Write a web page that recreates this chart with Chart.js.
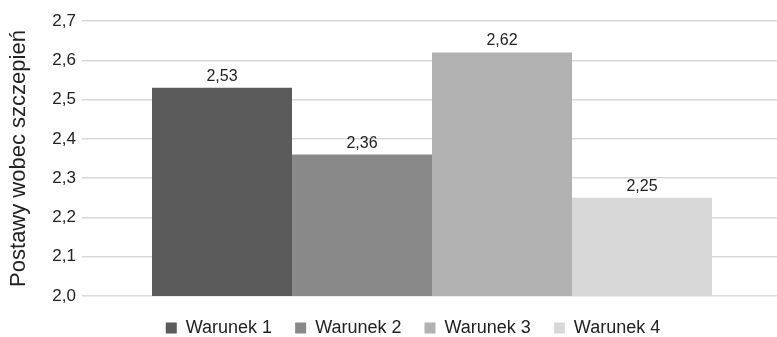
<!DOCTYPE html>
<html>
<head>
<meta charset="utf-8">
<script src="https://cdn.jsdelivr.net/npm/chart.js@4/dist/chart.umd.min.js"></script>
<style>
  html, body { margin: 0; padding: 0; background: #fff; }
  #wrap { width: 777px; height: 337px; }
</style>
</head>
<body>
<div id="wrap"><canvas id="c"></canvas></div>
<script>
const categories = [''];
const seriesNames = ['Warunek 1', 'Warunek 2', 'Warunek 3', 'Warunek 4'];
const seriesValues = [2.53, 2.36, 2.62, 2.25];
const seriesColors = ['#5b5b5b', '#898989', '#b1b1b1', '#d8d8d8'];
const yTicks = [2.0, 2.1, 2.2, 2.3, 2.4, 2.5, 2.6, 2.7];
const yTitle = 'Postawy wobec szczepień';

const fmt = v => v.toFixed(2).replace('.', ',');
const FONT = '"Liberation Sans", Arial, Helvetica, sans-serif';
const LEGEND_PAD = 23;

// Draws each bar's value above it, using the decimal comma.
const valueLabels = {
  id: 'valueLabels',
  afterDatasetsDraw(chart) {
    const ctx = chart.ctx;
    ctx.save();
    ctx.font = '16px ' + FONT;
    ctx.fillStyle = '#222';
    ctx.textAlign = 'center';
    ctx.textBaseline = 'alphabetic';
    chart.data.datasets.forEach((ds, i) => {
      const meta = chart.getDatasetMeta(i);
      meta.data.forEach((bar, j) => {
        ctx.fillText(fmt(ds.data[j]), bar.x, bar.y - 7);
      });
    });
    ctx.restore();
  }
};

// Lets the category band run a little past the right edge, and places the
// legend row under the bars, slightly right of the canvas centre.
const layoutTweaks = {
  id: 'layoutTweaks',
  afterLayout(chart) {
    const xs = chart.scales.x;
    if (xs) {
      xs.right += 5;
      xs.width += 5;
      xs.configure();
    }
    const lg = chart.legend;
    if (!lg) return;
    const dx = 413 - (lg.left + lg.right) / 2;
    const dy = 319 - (lg.top + LEGEND_PAD);
    lg.left += dx; lg.right += dx;
    lg.top += dy; lg.bottom += dy;
  }
};

new Chart(document.getElementById('c'), {
  type: 'bar',
  data: {
    labels: categories,
    datasets: seriesNames.map((name, i) => ({
      label: name,
      data: [seriesValues[i]],
      backgroundColor: seriesColors[i],
      borderWidth: 0,
      barPercentage: 1.0,
      categoryPercentage: 0.8
    }))
  },
  options: {
    responsive: true,
    maintainAspectRatio: false,
    animation: false,
    layout: { padding: { top: 21, right: 0, left: 0, bottom: 0 } },
    plugins: {
      legend: {
        position: 'bottom',
        maxHeight: 41,
        labels: {
          boxWidth: 11,
          boxHeight: 11,
          padding: LEGEND_PAD,
          color: '#222',
          font: { family: FONT, size: 18 }
        }
      },
      tooltip: { enabled: false }
    },
    scales: {
      x: {
        ticks: { display: false },
        grid: { display: false },
        border: { display: false },
        afterFit(axis) { axis.height = 0; }
      },
      y: {
        min: 2.0,
        max: 2.7,
        afterBuildTicks(axis) {
          axis.ticks = yTicks.map(v => ({ value: v }));
        },
        afterFit(axis) { axis.width = 82; },
        ticks: {
          color: '#222',
          padding: 6,
          font: { family: FONT, size: 17 },
          callback: v => v.toFixed(1).replace('.', ',')
        },
        grid: { color: '#d9d9d9', lineWidth: 1.5, drawTicks: false },
        border: { display: false },
        title: {
          display: true,
          text: yTitle,
          color: '#222',
          font: { family: FONT, size: 22 },
          padding: { top: 6, bottom: 0 }
        }
      }
    }
  },
  plugins: [valueLabels, layoutTweaks]
});
</script>
</body>
</html>
